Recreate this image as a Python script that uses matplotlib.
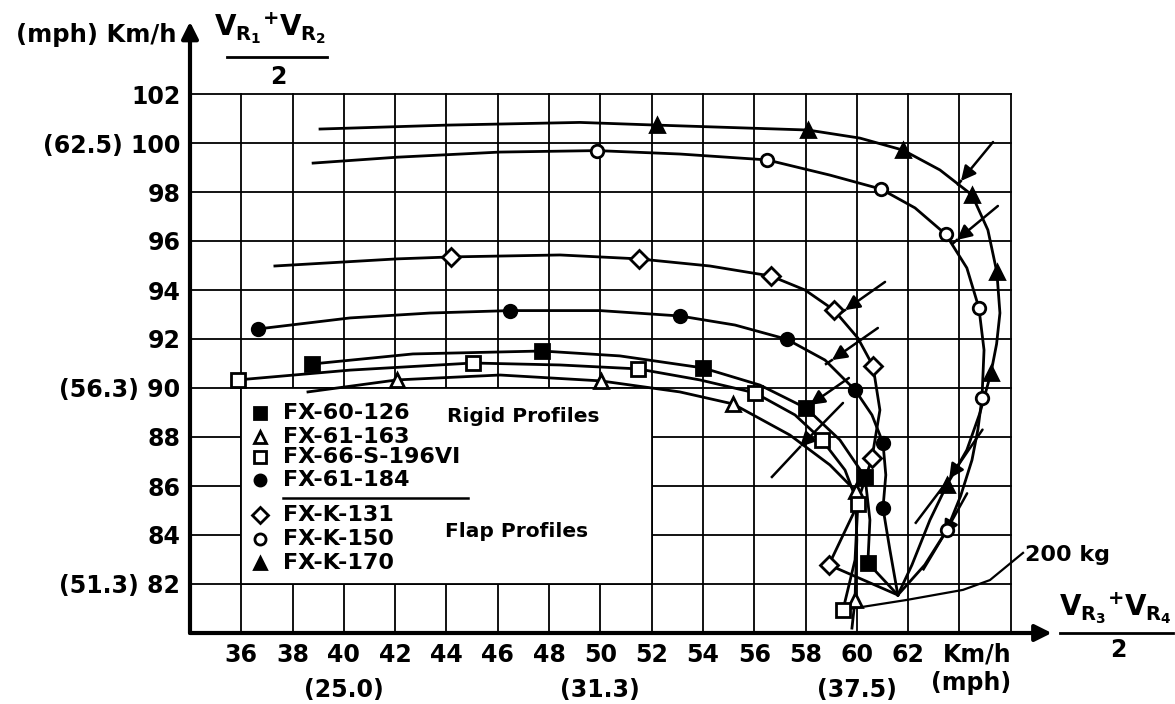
import matplotlib.pyplot as plt
from matplotlib.patches import Rectangle

plt.rcParams['font.family'] = 'DejaVu Sans'
plt.rcParams['font.weight'] = 'bold'

# traces, both axes in km/h
k170_x = [39.07, 44.02, 49.2, 52.21, 58.09, 60.12, 61.8, 63.24, 64.49, 65.11, 65.46, 65.58, 65.45, 65.23, 64.8, 64.29, 63.51, 62.85, 62.15, 61.6]
k170_y = [100.57, 100.73, 100.84, 100.73, 100.53, 100.2, 99.71, 98.9, 97.88, 96.45, 94.73, 93.06, 91.8, 90.61, 88.98, 87.47, 86.04, 84.61, 82.78, 81.55]
k170_mx = [52.21, 58.09, 61.8, 64.49, 65.46, 65.23, 63.51]
k170_my = [100.73, 100.53, 99.71, 97.88, 94.73, 90.61, 86.04]

k150_x = [38.8, 42.07, 46.09, 49.87, 53.1, 56.5, 58.95, 60.94, 62.27, 63.47, 64.29, 64.76, 64.96, 64.88, 64.72, 64.49, 64.05, 63.51, 62.65, 61.6]
k150_y = [99.18, 99.42, 99.63, 99.69, 99.55, 99.31, 98.69, 98.12, 97.35, 96.27, 94.9, 93.27, 91.55, 89.59, 88.3, 87.06, 85.6, 84.2, 82.78, 81.55]
k150_mx = [49.87, 56.5, 60.94, 63.47, 64.76, 64.88, 63.51]
k150_my = [99.69, 99.31, 98.12, 96.27, 93.27, 89.59, 84.2]

k131_x = [37.31, 42.07, 44.18, 48.43, 51.5, 54.27, 56.65, 57.98, 59.11, 60.04, 60.63, 60.9, 60.59, 59.93, 58.91, 61.6]
k131_y = [94.98, 95.27, 95.35, 95.43, 95.27, 94.98, 94.57, 94.0, 93.18, 92.04, 90.9, 89.1, 87.14, 85.02, 82.78, 81.55]
k131_mx = [44.18, 51.5, 56.65, 59.11, 60.63, 60.59, 58.91]
k131_my = [95.35, 95.27, 94.57, 93.18, 90.9, 87.14, 82.78]

f184_x = [36.65, 40.24, 43.36, 46.48, 49.98, 53.1, 55.25, 57.27, 58.76, 59.93, 60.59, 61.02, 61.13, 61.02, 61.29, 61.6]
f184_y = [92.41, 92.86, 93.06, 93.16, 93.16, 92.94, 92.57, 91.99, 91.14, 89.92, 88.9, 87.76, 86.45, 85.1, 83.39, 81.55]
f184_mx = [36.65, 46.48, 53.1, 57.27, 59.93, 61.02, 61.02]
f184_my = [92.41, 93.16, 92.94, 91.99, 89.92, 87.76, 85.1]

f126_x = [38.76, 42.69, 47.72, 50.76, 54.0, 56.22, 58.02, 59.34, 60.32, 60.51, 60.43, 61.6]
f126_y = [90.98, 91.39, 91.51, 91.31, 90.82, 90.12, 89.18, 87.88, 86.37, 84.61, 82.86, 81.55]
f126_mx = [38.76, 47.72, 54.0, 58.02, 60.32, 60.43]
f126_my = [90.98, 91.51, 90.82, 89.18, 86.37, 82.86]

f163_x = [38.6, 42.07, 46.09, 50.02, 53.1, 55.17, 57.39, 58.95, 59.95, 60.0, 59.93, 59.81]
f163_y = [89.84, 90.33, 90.53, 90.29, 89.84, 89.35, 88.08, 86.86, 85.8, 83.8, 81.35, 80.2]
f163_mx = [42.07, 50.02, 55.17, 59.95, 59.93]
f163_my = [90.33, 90.29, 89.35, 85.8, 81.35]

f196_x = [35.87, 40.24, 45.03, 48.43, 51.47, 53.88, 56.03, 57.59, 58.64, 59.54, 60.04, 59.93, 59.46]
f196_y = [90.33, 90.73, 91.02, 90.94, 90.78, 90.33, 89.8, 88.9, 87.88, 86.65, 85.27, 82.98, 80.94]
f196_mx = [35.87, 45.03, 51.47, 56.03, 58.64, 60.04, 59.46]
f196_my = [90.33, 91.02, 90.78, 89.8, 87.88, 85.27, 80.94]

# 200 kg line through the curve ends
kg200_x = [59.46, 61.95, 64.14, 65.19, 66.48]
kg200_y = [80.94, 81.35, 81.76, 82.16, 83.27]

# arrows: tail, arrow tip, end of the line past the tip
arrows = [
    ((65.31, 100.04), (64.06, 98.45), (63.95, 98.3)),
    ((65.5, 97.43), (63.9, 96.04), (63.75, 95.9)),
    ((61.1, 94.33), (59.54, 93.18), (59.4, 93.08)),
    ((60.82, 92.45), (59.03, 91.14), (58.8, 90.98)),
    ((59.69, 90.41), (58.17, 89.31), (57.9, 89.1)),
    ((59.46, 89.39), (57.78, 87.59), (56.69, 86.37)),
    ((64.9, 88.3), (63.6, 86.3), (62.3, 84.5)),
    ((64.3, 85.7), (63.4, 84.0), (62.6, 82.6)),
]

x_ticks = list(range(36, 63, 2))
y_ticks = list(range(82, 103, 2))
y_labels = ['(51.3) 82', '84', '86', '88', '(56.3) 90', '92', '94', '96', '98', '(62.5) 100', '102']
mph_x = [40, 50, 60]
mph_labels = ['(25.0)', '(31.3)', '(37.5)']

series = [
    ('FX-60-126', f126_x, f126_y, f126_mx, f126_my, 's', 'k'),
    ('FX-61-163', f163_x, f163_y, f163_mx, f163_my, '^', 'w'),
    ('FX-66-S-196VI', f196_x, f196_y, f196_mx, f196_my, 's', 'w'),
    ('FX-61-184', f184_x, f184_y, f184_mx, f184_my, 'o', 'k'),
    ('FX-K-131', k131_x, k131_y, k131_mx, k131_my, 'D', 'w'),
    ('FX-K-150', k150_x, k150_y, k150_mx, k150_my, 'o', 'w'),
    ('FX-K-170', k170_x, k170_y, k170_mx, k170_my, '^', 'k'),
]
msize = {'s': 10, '^': 10, 'o': 9, 'D': 9}

fig = plt.figure(figsize=(11.75, 7.04), dpi=100)
ax = fig.add_axes([190 / 1175, 71 / 704, 872 / 1175, 612.5 / 704])
ax.set_xlim(34, 68)
ax.set_ylim(80, 105)
for s in ax.spines.values():
    s.set_visible(False)

# grid
for gx in range(36, 67, 2):
    ax.plot([gx, gx], [80, 102], color='k', lw=1.3, zorder=1)
for gy in range(82, 103, 2):
    ax.plot([34, 66], [gy, gy], color='k', lw=1.3, zorder=1)

# axes with arrow heads
ax.annotate('', xy=(67.6, 80), xytext=(34, 80),
            arrowprops=dict(arrowstyle='-|>', lw=3, color='k', mutation_scale=25,
                            shrinkA=0, shrinkB=0), annotation_clip=False)
ax.annotate('', xy=(34, 104.95), xytext=(34, 80),
            arrowprops=dict(arrowstyle='-|>', lw=3, color='k', mutation_scale=25,
                            shrinkA=0, shrinkB=0), annotation_clip=False)

# legend box
ax.add_patch(Rectangle((36, 82), 16, 8, facecolor='white', edgecolor='k', lw=1.3, zorder=2))

for name, lx, ly, mx, my, mk, fc in series:
    ax.plot(lx, ly, color='k', lw=2, zorder=3)
    ax.plot(mx, my, ls='none', marker=mk, ms=msize[mk], mfc=fc, mec='k', mew=2, zorder=5)

ax.plot(kg200_x, kg200_y, color='k', lw=1.6, zorder=3)
ax.text(66.55, 83.2, '200 kg', fontsize=16, va='center', ha='left')

for tail, tip, end in arrows:
    ax.plot([tip[0], end[0]], [tip[1], end[1]], color='k', lw=1.8, zorder=4)
    ax.annotate('', xy=tip, xytext=tail,
                arrowprops=dict(arrowstyle='-|>', lw=1.8, color='k', mutation_scale=22,
                                shrinkA=0, shrinkB=0), zorder=4)

# legend entries
leg_y = [88.97, 88.01, 87.2, 86.24, 84.82, 83.82, 82.84]
for (name, lx, ly, mx, my, mk, fc), yy in zip(series, leg_y):
    ax.plot([36.73], [yy], marker=mk, ms=msize[mk] - 1, mfc=fc, mec='k', mew=2, zorder=5)
    ax.text(37.63, yy, name, fontsize=16, va='center', ha='left', zorder=5)
ax.plot([37.63, 44.84], [85.5, 85.5], color='k', lw=1.8, zorder=5)
ax.text(44.02, 88.83, 'Rigid Profiles', fontsize=14.5, va='center', ha='left', zorder=5)
ax.text(43.94, 84.13, 'Flap Profiles', fontsize=14.5, va='center', ha='left', zorder=5)

# ticks
ax.set_xticks(x_ticks)
ax.set_xticklabels([str(t) for t in x_ticks], fontsize=17)
ax.set_yticks(y_ticks)
ax.set_yticklabels(y_labels, fontsize=17)
ax.tick_params(length=0, pad=7)
ax.text(64.68, 80 - 22 / 24.5, 'Km/h', fontsize=17, ha='center', va='center')
for mx_, lab in zip(mph_x, mph_labels):
    ax.text(mx_, 80 - 57 / 24.5, lab, fontsize=17, ha='center', va='center')
ax.text(64.45, 80 - 50 / 24.5, '(mph)', fontsize=17, ha='center', va='center')

# axis titles
fig.text(177 / 1175, 1 - 35 / 704, '(mph) Km/h', fontsize=17.5, ha='right', va='center')
fig.text(270 / 1175, 1 - 28 / 704, r'$\mathsf{V_{R_1}{}^{+}V_{R_2}}$', fontsize=20, ha='center', va='center')
fig.add_artist(plt.Line2D([227 / 1175, 327 / 1175], [1 - 57 / 704, 1 - 57 / 704], color='k', lw=2))
fig.text(278 / 1175, 1 - 77 / 704, '2', fontsize=17, ha='center', va='center')

fig.text(1115 / 1175, 1 - 608 / 704, r'$\mathsf{V_{R_3}{}^{+}V_{R_4}}$', fontsize=20, ha='center', va='center')
fig.add_artist(plt.Line2D([1060 / 1175, 1173 / 1175], [1 - 633 / 704, 1 - 633 / 704], color='k', lw=2))
fig.text(1118 / 1175, 1 - 650 / 704, '2', fontsize=17, ha='center', va='center')

fig.savefig('out.png', dpi=100)
